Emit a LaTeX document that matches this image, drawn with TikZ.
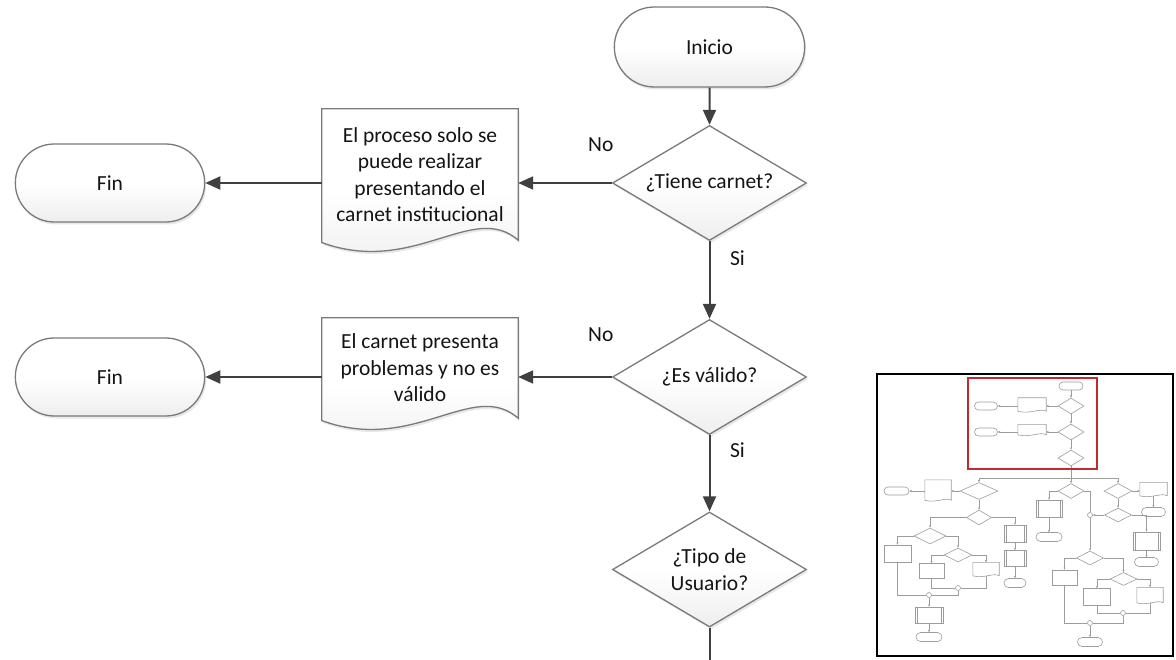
\documentclass[tikz,border=0pt]{standalone}
\usepackage{fontspec}
\setmainfont{Carlito}
\usetikzlibrary{shapes.geometric,shapes.misc,arrows.meta,calc,shadows,backgrounds}

\definecolor{edgegray}{HTML}{7A7A7A}
\definecolor{flowgray}{HTML}{404040}
\definecolor{shadegray}{HTML}{EEEEEE}
\definecolor{txt}{HTML}{141414}
\definecolor{thumbgray}{HTML}{9C9C9C}
\definecolor{framered}{HTML}{C02A2E}

% document symbol: rectangle with a wavy lower edge, built on a node's anchors
\newcommand{\docshape}[3][]{%
  \path[#1] ($(#2.south west)+(0,0.2*#3)$) -- (#2.north west) -- (#2.north east) -- (#2.south east)
    .. controls ($(#2.south east)!0.23!(#2.south west)+(0,-3.3*#3)$)
           and ($(#2.south east)!0.53!(#2.south west)+(0,3*#3)$)
    .. ($(#2.south west)+(0,0.2*#3)$) -- cycle;}

\tikzset{
  mainfont/.style={font=\fontsize{21.5}{26.5}\selectfont, text=txt},
  softshadow/.style={drop shadow={opacity=0.18, shadow xshift=1.5pt, shadow yshift=-2.5pt}},
  shapeface/.style={draw=edgegray, line width=1.3pt, top color=white, bottom color=shadegray, middle color=white, softshadow},
  term/.style={rounded rectangle, shapeface, mainfont, minimum width=196pt, minimum height=78pt},
  dia/.style={diamond, shapeface, mainfont, align=center, inner sep=0pt, aspect=1.69,
              minimum width=194pt, minimum height=115pt},
  docnode/.style={rectangle, mainfont, align=center, inner sep=0pt, minimum width=196pt},
  docface/.style={shapeface},
  flow/.style={draw=flowgray, line width=2pt, -{Triangle[length=15pt,width=13pt]}},
  plain/.style={draw=flowgray, line width=2pt},
  lab/.style={mainfont, inner sep=0pt},
  % overview map
  sz/.style 2 args={minimum width=#1pt, minimum height=#2pt},
  tface/.style={draw=thumbgray, line width=0.6pt, fill=white, inner sep=0pt},
  tterm/.style={rounded rectangle, tface},
  tdia/.style={diamond, tface},
  tbox/.style={rectangle, tface},
  tpred/.style={rectangle, tface, path picture={
      \draw[thumbgray, line width=0.5pt]
        ([xshift=2pt]path picture bounding box.north west) -- ([xshift=2pt]path picture bounding box.south west)
        ([xshift=-2pt]path picture bounding box.north east) -- ([xshift=-2pt]path picture bounding box.south east);}},
  tdoc/.style={rectangle, inner sep=0pt},
  tdocline/.style={draw=thumbgray, line width=0.6pt, fill=white},
  tcirc/.style={circle, tface, minimum size=5pt},
  tline/.style={draw=thumbgray, line width=0.6pt},
  tarr/.style={tline, -{Triangle[length=2.2pt,width=2pt]}},
}

\begin{document}
\begin{tikzpicture}[x=1pt, y=-1pt]
\useasboundingbox (0,0) rectangle (1176,660);

% ---------------- main flow ----------------
\node[term, minimum width=197pt, minimum height=80pt] (ini) at (709.5,47) {Inicio};
\node[dia] (d1) at (709.5,183) {¿Tiene carnet?};
\node[dia] (d2) at (709.5,377) {¿Es válido?};
\node[dia] (d3) at (709.5,569.5) {¿Tipo de\\Usuario?};

\node[docnode, minimum height=131pt] (doc1) at (420,174.5)
  {El proceso solo se\\puede realizar\\presentando el\\carnet institucional};
\node[docnode, minimum height=100pt] (doc2) at (420,368)
  {El carnet presenta\\problemas y no es\\válido};

\begin{scope}[on background layer]
  \docshape[docface]{doc1}{12}
  \docshape[docface]{doc2}{12}
\end{scope}

\node[term] (fin1) at (110,183) {Fin};
\node[term] (fin2) at (110,377) {Fin};

\coordinate (d3out) at (709.5,662);

\draw[flow] (ini) -- (d1);
\draw[flow] (d1.west) -- (d1.west -| doc1.east);
\draw[flow] (d1.west -| doc1.west) -- (fin1.east);
\draw[flow] (d1) -- (d2);
\draw[flow] (d2.west) -- (d2.west -| doc2.east);
\draw[flow] (d2.west -| doc2.west) -- (fin2.east);
\draw[flow] (d2) -- (d3);
\draw[plain] (d3.south) -- (d3out);

\node[lab] (no1) at ($(d1.west)+(-11,-38)$) {No};
\node[lab] (si1) at ($(d1.south)+(28,17)$) {Si};
\node[lab] (no2) at ($(d2.west)+(-11,-42)$) {No};
\node[lab] (si2) at ($(d2.south)+(28,15)$) {Si};

% ---------------- overview map ----------------
\draw[black, line width=1.3pt] (877,374) rectangle (1173,656);

% upper part
\node[tterm, sz={24}{8}] (tIni) at (1071,386) {};
\node[tdia, sz={26}{16}] (tD1) at (1071,406) {};
\node[tdoc, sz={28}{13}] (tDoc1) at (1032,404.5) {};
\node[tterm, sz={23}{8}] (tFin1) at (986,406) {};
\node[tdia, sz={26}{16}] (tD2) at (1071,432) {};
\node[tdoc, sz={28}{10}] (tDoc2) at (1032,429.5) {};
\node[tterm, sz={23}{8}] (tFin2) at (986,432) {};
\node[tdia, sz={26}{16}] (tD3) at (1071,458) {};
\docshape[tdocline]{tDoc1}{1}
\docshape[tdocline]{tDoc2}{1}

\draw[tarr] (tIni) -- (tD1);
\draw[tarr] (tD1.west) -- (tD1.west -| tDoc1.east);
\draw[tarr] (tD1.west -| tDoc1.west) -- (tD1.west -| tFin1.east);
\draw[tarr] (tD1) -- (tD2);
\draw[tarr] (tD2.west) -- (tD2.west -| tDoc2.east);
\draw[tarr] (tD2.west -| tDoc2.west) -- (tD2.west -| tFin2.east);
\draw[tarr] (tD2) -- (tD3);

% three branches
\coordinate (tB) at (1071,478);
\node[tdia, sz={38}{17}] (tD4) at (979,491) {};
\node[tdia, sz={26}{15}] (tD5) at (1071,491) {};
\node[tdia, sz={28}{15}] (tD6) at (1118,491) {};
\draw[tline] (tD3.south) -- (tB);
\draw[tarr] (tB) -- (tD5.north);
\draw[tarr] (tB) -| (tD4.north);
\draw[tarr] (tB) -| (tD6.north);

% left branch
\node[tdoc, sz={26}{20}] (tDoc3) at (938,490) {};
\node[tterm, sz={25}{8}] (tFin3) at (896.5,491) {};
\docshape[tdocline]{tDoc3}{1}
\draw[tarr] (tD4.west) -- (tD4.west -| tDoc3.east);
\draw[tarr] (tD4.west -| tDoc3.west) -- (tD4.west -| tFin3.east);

\node[tdia, sz={25}{15}] (tD7) at (979,517.5) {};
\draw[tarr] (tD4) -- (tD7);
\node[tdia, sz={32}{16}] (tD8) at (930,536) {};
\node[tpred, sz={22}{17}] (tP1) at (1015,533.5) {};
\node[tpred, sz={22}{16}] (tP2) at (1015,558.5) {};
\node[tterm, sz={22}{9}] (tFin4) at (1015,583) {};
\draw[tarr] (tD7.west) -| (tD8.north);
\draw[tarr] (tD7.east) -| (tP1.north);
\draw[tarr] (tP1) -- (tP2);
\draw[tarr] (tP2) -- (tFin4);

\node[tbox, sz={27}{17}] (tR1) at (897.5,553.5) {};
\node[tdia, sz={28}{14}] (tD9) at (958,555) {};
\draw[tarr] (tD8.west) -| (tR1.north);
\draw[tarr] (tD8.east) -| (tD9.north);
\node[tbox, sz={25}{15}] (tR2) at (931.5,571) {};
\node[tdoc, sz={26}{13}] (tDoc4) at (986,569) {};
\docshape[tdocline]{tDoc4}{1}
\draw[tarr] (tD9.west) -| (tR2.north);
\draw[tarr] (tD9.east) -| (tDoc4.north);

\node[tcirc] (tM1) at (958,588) {};
\node[tcirc] (tM2) at (929,595) {};
\draw[tline] (tR2.south) |- (tM1.west);
\draw[tline] (tDoc4.south) |- (tM1.east);
\draw[tline] (tM1.south) |- (tM2.east);
\draw[tline] (tR1.south) |- (tM2.west);
\node[tpred, sz={28}{16}] (tP3) at (929,615) {};
\node[tterm, sz={26}{9}] (tFin5) at (929,637) {};
\draw[tarr] (tM2) -- (tP3);
\draw[tarr] (tP3) -- (tFin5);

% middle branch
\node[tpred, sz={26}{17}] (tP4) at (1049,508.5) {};
\node[tterm, sz={26}{9}] (tFin6) at (1049,537) {};
\draw[tarr] (tD5.west) -| (tP4.north);
\draw[tarr] (tP4) -- (tFin6);
\node[tcirc] (tM3) at (1090,515) {};
\draw[tline] (tD5.east) -| (tM3.north);

% right branch
\node[tdoc, sz={27}{13}] (tDoc5) at (1153.5,489) {};
\node[tterm, sz={24}{9}] (tFin7) at (1153.5,512) {};
\docshape[tdocline]{tDoc5}{1}
\draw[tarr] (tD6.east) -- (tD6.east -| tDoc5.west);
\draw[tarr] (tDoc5) -- (tFin7);
\node[tdia, sz={27}{14}] (tD10) at (1118,515) {};
\draw[tarr] (tD6) -- (tD10);
\draw[tarr] (tD10.west) -- (tM3.east);
\node[tpred, sz={27}{18}] (tP5) at (1146.5,541) {};
\node[tterm, sz={24}{9}] (tFin8) at (1146.5,562) {};
\draw[tarr] (tD10.east) -| (tP5.north);
\draw[tarr] (tP5) -- (tFin8);

\node[tdia, sz={27}{14}] (tD11) at (1090,558) {};
\draw[tarr] (tM3) -- (tD11);
\node[tbox, sz={25}{15}] (tR3) at (1064.5,577.5) {};
\node[tdia, sz={27}{13}] (tD12) at (1123.5,579) {};
\draw[tarr] (tD11.west) -| (tR3.north);
\draw[tarr] (tD11.east) -| (tD12.north);
\node[tbox, sz={27}{17}] (tR4) at (1097,597) {};
\node[tdoc, sz={26}{15}] (tDoc6) at (1150,595) {};
\docshape[tdocline]{tDoc6}{1}
\draw[tarr] (tD12.west) -| (tR4.north);
\draw[tarr] (tD12.east) -| (tDoc6.north);
\node[tcirc] (tM4) at (1123,613) {};
\node[tcirc] (tM5) at (1090,623) {};
\draw[tline] (tR4.south) |- (tM4.west);
\draw[tline] (tDoc6.south) |- (tM4.east);
\draw[tline] (tR3.south) |- (tM5.west);
\draw[tline] (tM4.south) |- (tM5.east);
\node[tterm, sz={25}{9}] (tFin9) at (1090,642) {};
\draw[tarr] (tM5) -- (tFin9);

% visible area marker
\draw[framered, line width=1.4pt] (968,378) rectangle (1097,469);

\end{tikzpicture}
\end{document}
